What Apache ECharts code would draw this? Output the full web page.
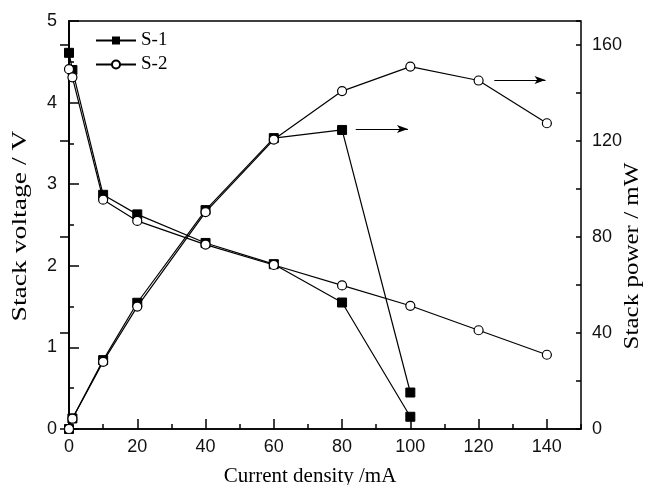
<!DOCTYPE html>
<html>
<head>
<meta charset="utf-8">
<script src="https://cdn.jsdelivr.net/npm/echarts@6/dist/echarts.min.js"></script>
<style>
  html, body { margin: 0; padding: 0; background: #fff; }
  #main { width: 652px; height: 485px; }
</style>
</head>
<body>
<div id="main"></div>
<script>
// current density (mA)
const xS1 = [0, 1, 10, 20, 40, 60, 80, 100];
const xS2 = [0, 1, 10, 20, 40, 60, 80, 100, 120, 140];
// stack voltage (V)
const voltS1 = [4.61, 4.40, 2.87, 2.63, 2.28, 2.02, 1.55, 0.15];
const voltS2 = [4.41, 4.31, 2.81, 2.55, 2.26, 2.01, 1.76, 1.51, 1.21, 0.91];
// stack power (mW)
const powS1 = [0, 4.4, 28.7, 52.6, 91.2, 121.2, 124.6, 15.2];
const powS2 = [0, 4.3, 28, 51, 90.4, 120.6, 140.8, 151, 145.2, 127.4];
// arrows pointing to the power axis: [xStart, xEnd, power]
const arrowS1 = [84, 99.3, 125];
const arrowS2 = [124.6, 139.6, 145.4];

const pair = (xs, ys) => xs.map((x, i) => [x, ys[i]]);

const serif = 'Liberation Serif';
const sans = 'Liberation Sans';
const black = '#000';

let myChart = echarts.init(document.getElementById('main'), null, { renderer: 'canvas' });

const lineS1 = { color: black, width: 1.2 };
const markArrow = (a) => ({
    silent: true,
    symbol: ['none', 'arrow'],
    symbolSize: [6, 11],
    label: { show: false },
    lineStyle: { color: black, width: 1.2, type: 'solid' },
    data: [[{ coord: [a[0], a[2]] }, { coord: [a[1], a[2]] }]]
});

// vertical axis titles, stretched along the text like in the source figure
const vTitle = (text, x, y, stretch) => ({
    type: 'text', x: x, y: y, rotation: Math.PI / 2, scaleX: stretch,
    style: { text: text, fontFamily: serif, fontSize: 20, fill: black, align: 'center', verticalAlign: 'middle' }
});

let option = {
    animation: false,
    backgroundColor: '#fff',
    grid: {
        left: 69, right: 71, top: 21, bottom: 56,
        outerBoundsMode: 'none',
        show: true, borderColor: black, borderWidth: 1.5
    },
    legend: {
        orient: 'vertical',
        left: 90, top: 26,
        itemWidth: 40, itemHeight: 10, itemGap: 5,
        textStyle: { fontFamily: serif, fontSize: 19, color: black },
        data: ['S-1', 'S-2']
    },
    graphic: [
        vTitle('Stack voltage / V', 21, 226, 1.38),
        vTitle('Stack power / mW', 633, 256, 1.25)
    ],
    xAxis: [
        {
            type: 'value', position: 'bottom',
            min: 0, max: 150, interval: 20,
            name: 'Current density /mA', nameLocation: 'middle', nameGap: 37,
            nameTextStyle: { fontFamily: serif, fontSize: 21, color: black, padding: [0, 30, 0, 0] },
            axisLine: { lineStyle: { color: black, width: 1.5 } },
            axisTick: { inside: true, length: 10, lineStyle: { color: black, width: 1.5 } },
            axisLabel: { fontFamily: sans, fontSize: 18, color: '#111', margin: 9, showMaxLabel: false },
            splitLine: { show: false }
        },
        {
            // minor ticks
            type: 'value', position: 'bottom',
            min: 0, max: 150, interval: 10,
            axisLine: { show: false },
            axisTick: { inside: true, length: 5, lineStyle: { color: black, width: 1.5 } },
            axisLabel: { show: false },
            splitLine: { show: false }
        }
    ],
    yAxis: [
        {
            type: 'value', position: 'left',
            min: 0, max: 5, interval: 1,
            axisLine: { show: true, lineStyle: { color: black, width: 1.5 } },
            axisTick: { show: true, inside: true, length: 10, lineStyle: { color: black, width: 1.5 } },
            minorTick: { show: true, splitNumber: 2, length: 5, lineStyle: { color: black, width: 1.5 } },
            axisLabel: { fontFamily: sans, fontSize: 18, color: '#111', margin: 12 },
            splitLine: { show: false }
        },
        {
            type: 'value', position: 'right',
            min: 0, max: 170, interval: 40,
            axisLine: { show: true, lineStyle: { color: black, width: 1.5 } },
            axisTick: { show: true, inside: true, length: 9, lineStyle: { color: black, width: 1.5 } },
            axisLabel: { fontFamily: sans, fontSize: 18, color: '#111', margin: 11, showMaxLabel: false },
            splitLine: { show: false }
        },
        {
            // minor ticks
            type: 'value', position: 'right',
            min: 0, max: 170, interval: 20,
            axisLine: { show: false },
            axisTick: { show: true, inside: true, length: 5, lineStyle: { color: black, width: 1.5 } },
            axisLabel: { show: false },
            splitLine: { show: false }
        }
    ],
    series: [
        {
            name: 'S-1', type: 'line', yAxisIndex: 0, clip: false,
            symbol: 'rect', symbolSize: 9,
            itemStyle: { color: black, borderColor: black },
            lineStyle: lineS1,
            data: pair(xS1, voltS1)
        },
        {
            name: 'S-1', type: 'line', yAxisIndex: 1, clip: false,
            symbol: 'rect', symbolSize: 9,
            itemStyle: { color: black, borderColor: black },
            lineStyle: lineS1,
            data: pair(xS1, powS1),
            markLine: markArrow(arrowS1)
        },
        {
            name: 'S-2', type: 'line', yAxisIndex: 0, clip: false,
            symbol: 'circle', symbolSize: 9, showAllSymbol: true,
            itemStyle: { color: '#fff', borderColor: black, borderWidth: 1.2 },
            lineStyle: lineS1,
            data: pair(xS2, voltS2)
        },
        {
            name: 'S-2', type: 'line', yAxisIndex: 1, clip: false,
            symbol: 'circle', symbolSize: 9, showAllSymbol: true,
            itemStyle: { color: '#fff', borderColor: black, borderWidth: 1.2 },
            lineStyle: lineS1,
            data: pair(xS2, powS2),
            markLine: markArrow(arrowS2)
        }
    ]
};
myChart.setOption(option);
</script>
</body>
</html>
